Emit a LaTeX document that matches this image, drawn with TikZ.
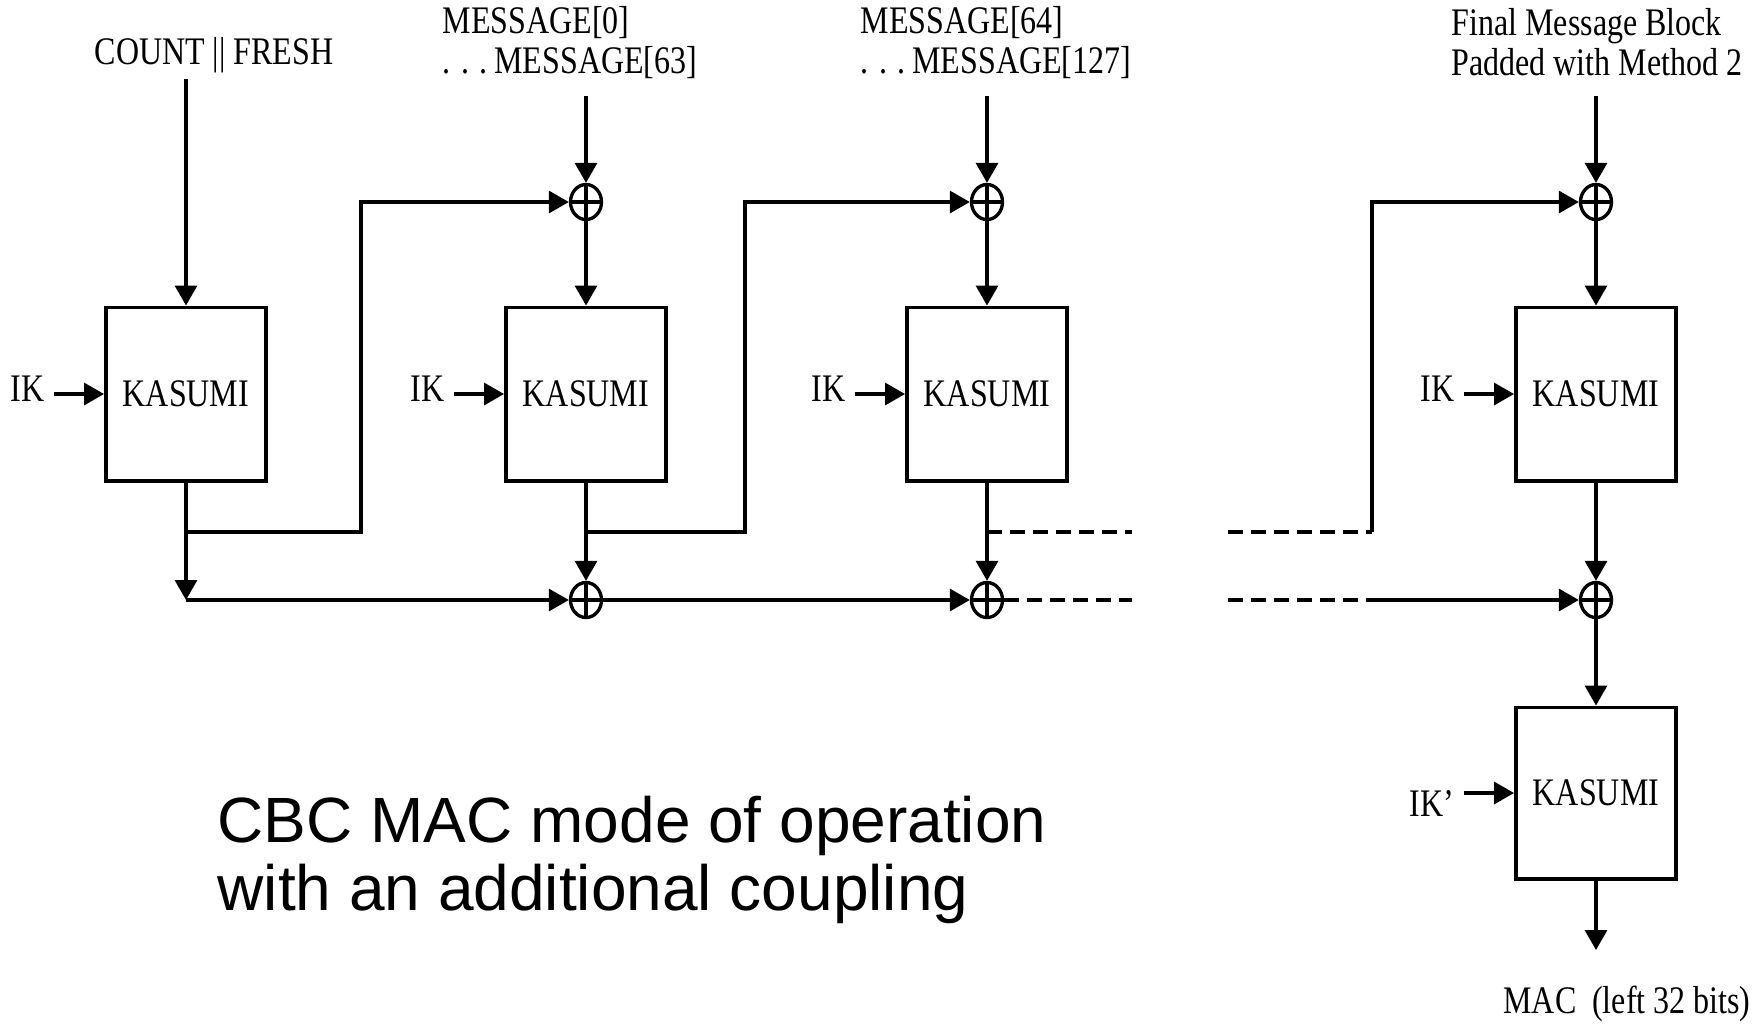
\documentclass[tikz,border=0pt]{standalone}
\usepackage{fontspec}
\setmainfont{Liberation Serif}[FakeStretch=0.82]
\newfontfamily\captionfont{Liberation Sans}
\usetikzlibrary{arrows.meta,positioning,shapes.geometric}

\begin{document}
\begin{tikzpicture}[x=0.01cm, y=-0.01cm, line width=0.95pt,
    arr/.style={-{Triangle[length=0.2cm,width=0.22cm]}},
    gap/.style={line width=1.2pt, dash pattern=on 0.15cm off 0.08cm},
    kasumi/.style={draw, line width=1.1pt, minimum width=1.6cm, minimum height=1.73cm,
        font=\fontsize{11.1}{12}\selectfont},
    xor/.style={draw, ellipse, minimum width=0.31cm, minimum height=0.35cm, inner sep=0pt,
        path picture={\draw (path picture bounding box.north) -- (path picture bounding box.south)
            (path picture bounding box.west) -- (path picture bounding box.east);}},
    keylabel/.style={font=\fontsize{11.1}{12}\selectfont, inner sep=0.08cm},
    intext/.style={font=\fontsize{11.1}{11.4}\selectfont, align=left, inner sep=0pt}]

\useasboundingbox (0,0) rectangle (1763,1023);

% --- KASUMI blocks ---
\node[kasumi] (k1) at (186,394) {KASUMI};
\node[kasumi] (k2) at (586,394) {KASUMI};
\node[kasumi] (k3) at (987,394) {KASUMI};
\node[kasumi] (k4) at (1596,394) {KASUMI};
\node[kasumi, minimum height=1.71cm] (k5) at (1596,793) {KASUMI};

% --- XOR gates ---
\foreach \n/\x in {2/586, 3/987, 4/1596} {
    \node[xor] (xt\n) at (\x,202) {};
    \node[xor] (xb\n) at (\x,600) {};
}

% --- Inputs ---
\node[intext] (count) at (214,55) {COUNT || FRESH};
\node[intext, anchor=west] (msg1) at (441,43) {MESSAGE[0]\\. . .\,MESSAGE[63]};
\node[intext, anchor=west] (msg2) at (859,43) {MESSAGE[64]\\. . .\,MESSAGE[127]};
\node[intext, anchor=west] (msgf) at (1450,42) {Final Message Block\\Padded with Method 2};

\coordinate (in1) at (186,79);
\coordinate (in2) at (586,96);
\coordinate (in3) at (987,96);
\coordinate (in4) at (1596,96);

\draw[arr] (in1) -- (k1.north);
\foreach \n in {2,3,4} {
    \draw[arr] (in\n) -- (xt\n);
    \draw[arr] (xt\n) -- (k\n.north);
    \draw[arr] (k\n.south) -- (xb\n);
}

% --- Keys ---
\foreach \n in {1,...,4} {
    \node[keylabel, left=0.5cm of k\n, yshift=0.05cm] (ik\n) {IK};
    \draw[arr] (ik\n.east |- k\n) -- (k\n.west);
}
\node[keylabel, left=0.5cm of k5, yshift=-0.1cm] (ik5) {IK’};
\draw[arr] (ik5.east |- k5) -- (k5.west);

% --- Chaining ---
\coordinate (c1) at (186,600);
\coordinate (s1) at (186,532);
\coordinate (u1) at (361,532);
\coordinate (s2) at (586,532);
\coordinate (u2) at (745,532);
\coordinate (s3) at (987,532);
\draw[arr] (k1.south) -- (c1);
\draw[arr] (c1) -- (xb2);
\draw[arr] (xb2) -- (xb3);
\draw[arr] (s1) -- (u1) |- (xt2);
\draw[arr] (s2) -- (u2) |- (xt3);

% --- Gap ---
\coordinate (d1) at (1132,532);
\coordinate (d2) at (1132,600);
\coordinate (d3) at (1228,532);
\coordinate (d4) at (1228,600);
\coordinate (u3) at (1372,532);
\coordinate (u4) at (1372,600);
\draw[gap] (s3) -- (d1);
\draw[gap] (xb3.east) -- (d2);
\draw[gap] (d3) -- (u3);
\draw[gap] (d4) -- (u4);
\draw[arr] (u3) |- (xt4);
\draw[arr] (u4) -- (xb4);

% --- Output ---
\coordinate (macout) at (1596,950);
\draw[arr] (xb4) -- (k5.north);
\draw[arr] (k5.south) -- (macout);
\node[intext] (mac) at (1627,1004) {MAC\ \ (left 32 bits)};

% --- Caption ---
\node[anchor=west, align=left, inner sep=0pt, font=\captionfont\fontsize{18.2}{19.5}\selectfont]
    (title) at (216,860) {CBC MAC mode of operation\\with an additional coupling};

\end{tikzpicture}
\end{document}
